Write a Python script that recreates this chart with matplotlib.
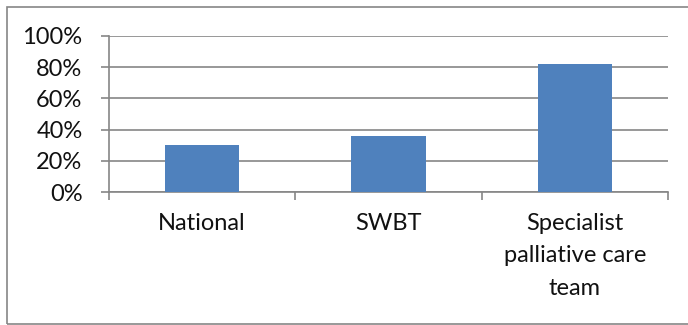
import numpy as np
import matplotlib.pyplot as plt
from matplotlib.patches import Rectangle
from matplotlib.ticker import PercentFormatter

categories = ['National', 'SWBT', 'Specialist\npalliative care\nteam']
values = [30, 36, 82]
yticks = [0, 20, 40, 60, 80, 100]

plt.rcParams['font.family'] = ['Lato', 'DejaVu Sans']

fig = plt.figure(figsize=(6.88, 3.25), dpi=100)
# outer chart border
fig.patches.append(Rectangle((7/688, 1/325), 690/688, 317/325, transform=fig.transFigure,
                             fill=False, edgecolor='#868686', linewidth=1.2))

ax = fig.add_axes([109/688, 1-192/325, 559/688, 156/325])
x = np.arange(len(categories))
ax.bar(x, values, width=0.40, color='#4F81BD', zorder=3)

ax.set_xlim(-0.5, len(categories)-0.5)
ax.set_ylim(0, 100)
ax.set_yticks(yticks)
ax.yaxis.set_major_formatter(PercentFormatter(decimals=0))
ax.yaxis.grid(True, color='#868686', linewidth=1.2, zorder=0)

for s in ['top', 'right']:
    ax.spines[s].set_visible(False)
for s in ['left', 'bottom']:
    ax.spines[s].set_color('#868686')
    ax.spines[s].set_linewidth(1.2)

ax.set_xticks(np.arange(-0.5, len(categories)), minor=False)
ax.set_xticklabels([])
ax.set_xticks(x, minor=True)
ax.set_xticklabels(categories, minor=True, fontsize=17, linespacing=1.68, va='top',
                   color='#111111')
ax.tick_params(axis='x', which='major', length=6, color='#868686', width=1.2)
ax.tick_params(axis='x', which='minor', length=0, pad=15)
ax.tick_params(axis='y', length=6, color='#868686', width=1.2, labelsize=17, pad=13,
               labelcolor='#111111')

fig.savefig('out.png', dpi=100)
